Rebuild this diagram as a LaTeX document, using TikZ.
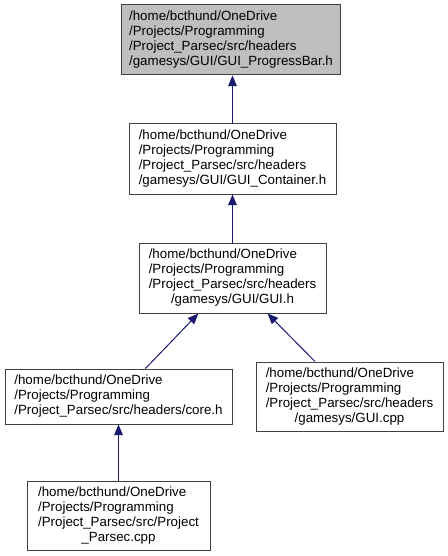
\documentclass[tikz,border=0pt]{standalone}
\usepackage{fontspec}
\setmainfont{Liberation Sans}
\usetikzlibrary{arrows.meta}
\definecolor{edgeblue}{HTML}{191970}
\definecolor{boxline}{HTML}{404040}
\definecolor{hlfill}{HTML}{BFBFBF}
\newcommand{\boxtext}[4]{\begin{tabular}{@{}l@{}}#1\\#2\\#3\ifx\relax#4\relax\else\\\multicolumn{1}{@{}c@{}}{#4}\fi\end{tabular}}
\begin{document}
\begin{tikzpicture}[x=0.75pt,y=-0.75pt,
  box/.style={draw=boxline, line width=0.75pt, fill=white, inner sep=0pt,
    font=\fontsize{10}{11.25}\selectfont, anchor=center},
  edge/.style={draw=edgeblue, line width=0.75pt,
    {Triangle[length=8pt,width=6.5pt,fill=edgeblue]}-}]
\useasboundingbox (0,0) rectangle (448,556);
\node[box, fill=hlfill, minimum width=164.25pt, minimum height=52.5pt] (b1) at (231,40)
  {\boxtext{/home/bcthund/OneDrive}{/Projects/Programming}{/Project\_Parsec/src/headers}{/gamesys/GUI/GUI\_ProgressBar.h}};
\node[box, minimum width=155.25pt, minimum height=52.5pt] (b2) at (232.5,159)
  {\boxtext{/home/bcthund/OneDrive}{/Projects/Programming}{/Project\_Parsec/src/headers}{/gamesys/GUI/GUI\_Container.h}};
\node[box, minimum width=140.25pt, minimum height=52.5pt] (b3) at (232.5,278)
  {\boxtext{/home/bcthund/OneDrive}{/Projects/Programming}{/Project\_Parsec/src/headers}{/gamesys/GUI/GUI.h}};
\node[box, minimum width=170.25pt, minimum height=41.25pt] (b4) at (118.5,396.5)
  {\boxtext{/home/bcthund/OneDrive}{/Projects/Programming}{/Project\_Parsec/src/headers/core.h}{}};
\node[box, minimum width=140.25pt, minimum height=51.75pt] (b5) at (349.5,396.5)
  {\boxtext{/home/bcthund/OneDrive}{/Projects/Programming}{/Project\_Parsec/src/headers}{/gamesys/GUI.cpp}};
\node[box, minimum width=137.25pt, minimum height=51.75pt] (b6) at (118.5,515.5)
  {\boxtext{/home/bcthund/OneDrive}{/Projects/Programming}{/Project\_Parsec/src/Project}{\_Parsec.cpp}};
\draw[edge] (b1.south -| b2.north) -- (b2.north);
\draw[edge] (b2) -- (b3);
\draw[edge] (b3) -- (b4);
\draw[edge] (b3) -- (b5);
\draw[edge] (b4) -- (b6);
\end{tikzpicture}
\end{document}
